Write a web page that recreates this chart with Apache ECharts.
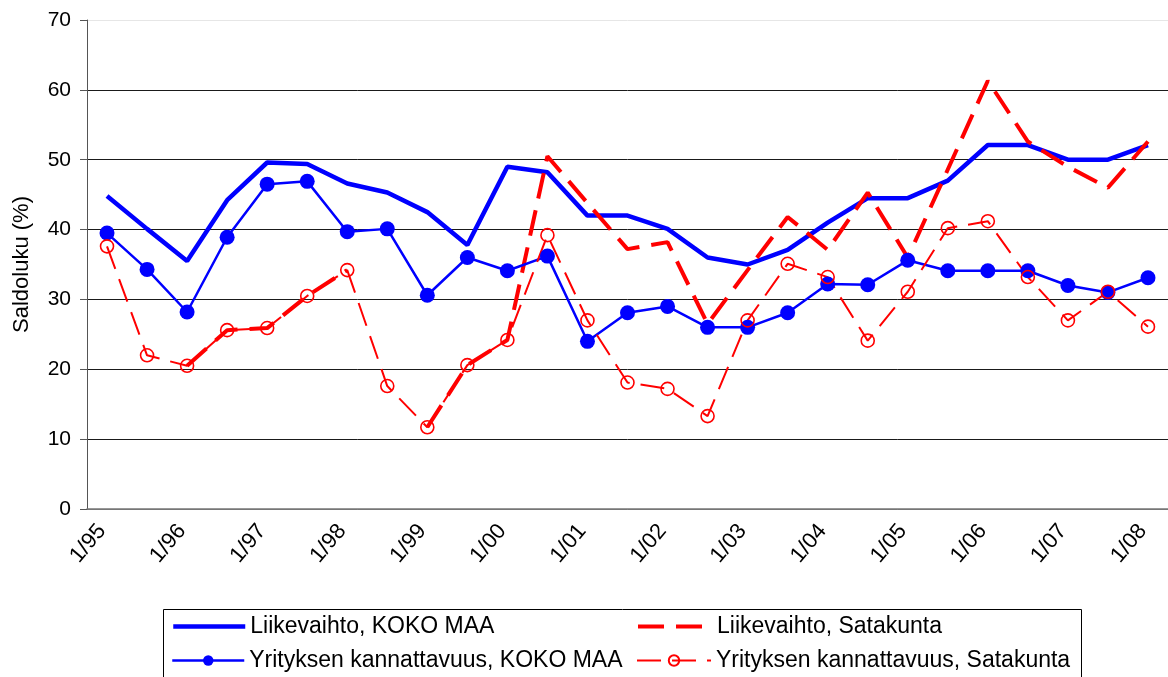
<!DOCTYPE html>
<html>
<head>
<meta charset="utf-8">
<title>Saldoluku</title>
<script src="https://cdn.jsdelivr.net/npm/echarts@6.0.0/dist/echarts.min.js"></script>
<style>
  html, body { margin: 0; padding: 0; background: #fff; }
  #chart { width: 1168px; height: 677px; }
</style>
</head>
<body>
<div id="chart"></div>
<script>
// puolivuosittaiset havainnot 1/95 ... 1/08
var categories = [
  '1/95', '7/95', '1/96', '7/96', '1/97', '7/97', '1/98', '7/98', '1/99', '7/99',
  '1/00', '7/00', '1/01', '7/01', '1/02', '7/02', '1/03', '7/03', '1/04', '7/04',
  '1/05', '7/05', '1/06', '7/06', '1/07', '7/07', '1/08'
];
var yTicks = [0, 10, 20, 30, 40, 50, 60, 70];
var seriesNames = [
  'Liikevaihto, KOKO MAA',
  'Liikevaihto, Satakunta',
  'Yrityksen kannattavuus, KOKO MAA',
  'Yrityksen kannattavuus, Satakunta'
];

var liikevaihtoKoko = [
  44.8, 40.1, 35.5, 44.2, 49.6, 49.4, 46.6, 45.3, 42.5, 37.8,
  49.0, 48.2, 42.0, 42.0, 40.1, 36.0, 35.0, 37.1, 41.0, 44.5,
  44.5, 47.0, 52.1, 52.1, 50.0, 50.0, 52.1
];
var liikevaihtoSata = [
  null, null, 20.5, 25.6, 25.9, 30.5, 34.2, null, 11.7, 20.6,
  24.2, 50.5, 43.8, 37.2, 38.2, 26.5, 34.2, 41.8, 37.1, 45.3,
  36.0, 48.6, 61.3, 52.6, 49.0, 46.0, 52.6
];
var kannattavuusKoko = [
  39.5, 34.3, 28.2, 38.9, 46.5, 46.9, 39.7, 40.1, 30.6, 36.0,
  34.1, 36.2, 24.0, 28.1, 29.0, 26.0, 26.0, 28.1, 32.2, 32.1,
  35.6, 34.1, 34.1, 34.1, 32.0, 31.0, 33.1
];
var kannattavuusSata = [
  37.6, 22.0, 20.5, 25.6, 25.9, 30.5, 34.2, 17.6, 11.7, 20.6,
  24.2, 39.2, 27.0, 18.1, 17.2, 13.3, 27.0, 35.1, 33.2, 24.1,
  31.1, 40.2, 41.2, 33.2, 27.0, 31.1, 26.1
];

var font = '"Liberation Sans", Arial, sans-serif';

// yksi selite per sarja, sijoitettu kahteen sarakkeeseen
function legendItem(name, left, top, width, hideSymbol) {
  var item = { name: name };
  if (hideSymbol) {
    item.itemStyle = { opacity: 0 };
  }
  return {
    orient: 'horizontal',
    left: left,
    top: top,
    padding: 0,
    itemWidth: width,
    itemHeight: 13,
    selectedMode: false,
    lineStyle: { width: 'inherit' },
    textStyle: { color: '#000', fontSize: 23, fontFamily: font },
    data: [item]
  };
}

var chart = echarts.init(document.getElementById('chart'));
chart.setOption({
  animation: false,
  backgroundColor: '#fff',
  grid: {
    left: 87,
    right: -4,
    top: 20,
    bottom: 168
  },
  xAxis: {
    type: 'category',
    data: categories,
    boundaryGap: true,
    axisLine: {
      lineStyle: { color: '#777', width: 1.5 }
    },
    axisTick: { show: false },
    axisLabel: {
      interval: 1,
      rotate: 50,
      margin: 12,
      padding: [0, 8, 0, 0],
      color: '#000',
      fontSize: 22,
      fontFamily: font
    },
    splitLine: { show: false }
  },
  yAxis: {
    type: 'value',
    min: yTicks[0],
    max: yTicks[yTicks.length - 1],
    interval: 10,
    name: 'Saldoluku (%)',
    nameLocation: 'middle',
    nameGap: 54,
    nameTextStyle: {
      color: '#000',
      fontSize: 22,
      fontFamily: font
    },
    axisLine: {
      show: true,
      lineStyle: { color: '#555', width: 1 }
    },
    axisTick: {
      show: true,
      length: 7,
      lineStyle: { color: '#555' }
    },
    axisLabel: {
      margin: 16,
      color: '#000',
      fontSize: 21,
      fontFamily: font
    },
    splitLine: {
      lineStyle: {
        color: ['#777', '#1a1a1a', '#1a1a1a', '#1a1a1a', '#1a1a1a', '#1a1a1a', '#1a1a1a', '#e6e6e6'],
        width: 1
      }
    }
  },
  legend: [
    legendItem(seriesNames[0], 171, 615, 72, true),
    legendItem(seriesNames[1], 636, 615, 74, true),
    legendItem(seriesNames[2], 171, 649, 72, false),
    legendItem(seriesNames[3], 636, 649, 74, false)
  ],
  graphic: [
    {
      type: 'rect',
      shape: { x: 163.5, y: 609.5, width: 918, height: 80 },
      style: { fill: 'none', stroke: '#000', lineWidth: 1 },
      silent: true
    }
  ],
  series: [
    {
      name: seriesNames[0],
      type: 'line',
      data: liikevaihtoKoko,
      symbol: 'none',
      lineStyle: { color: '#0000ff', width: 4.5 },
      itemStyle: { color: '#0000ff' }
    },
    {
      name: seriesNames[1],
      type: 'line',
      data: liikevaihtoSata,
      symbol: 'none',
      connectNulls: false,
      lineStyle: { color: '#ff0000', width: 4, type: [26, 12] },
      itemStyle: { color: '#ff0000' }
    },
    {
      name: seriesNames[2],
      type: 'line',
      data: kannattavuusKoko,
      symbol: 'circle',
      symbolSize: 15,
      lineStyle: { color: '#0000ff', width: 2.5 },
      itemStyle: { color: '#0000ff' }
    },
    {
      name: seriesNames[3],
      type: 'line',
      data: kannattavuusSata,
      symbol: 'circle',
      symbolSize: 13,
      lineStyle: { color: '#ff0000', width: 2, type: [24, 11] },
      itemStyle: { color: 'rgba(255,255,255,0)', borderColor: '#ff0000', borderWidth: 1.6 }
    }
  ]
});
</script>
</body>
</html>
